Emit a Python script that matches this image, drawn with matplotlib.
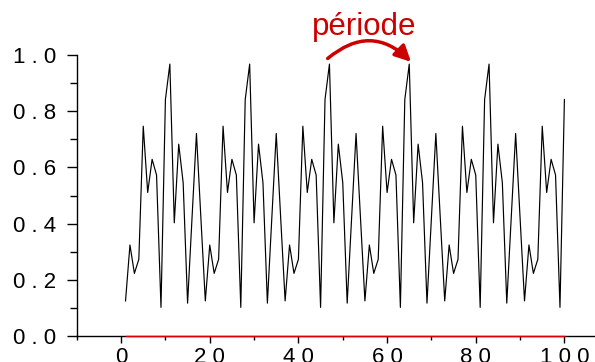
import matplotlib
matplotlib.use("Agg")
import matplotlib.pyplot as plt
from matplotlib.ticker import MultipleLocator, FixedLocator

plt.rcParams['font.family'] = ['Liberation Sans', 'DejaVu Sans']

x_values = list(range(1, 101))
y_values = [
    0.125, 0.324, 0.223, 0.273, 0.747, 0.511, 0.629, 0.573, 0.102, 0.842, 0.968, 0.403, 0.683, 0.546, 0.117, 0.420, 0.721, 0.420,
    0.125, 0.324, 0.223, 0.273, 0.747, 0.511, 0.629, 0.573, 0.102, 0.842, 0.968, 0.403, 0.683, 0.546, 0.117, 0.420, 0.721, 0.420,
    0.125, 0.324, 0.223, 0.273, 0.747, 0.511, 0.629, 0.573, 0.102, 0.842, 0.968, 0.403, 0.683, 0.546, 0.117, 0.420, 0.721, 0.420,
    0.125, 0.324, 0.223, 0.273, 0.747, 0.511, 0.629, 0.573, 0.102, 0.842, 0.968, 0.403, 0.683, 0.546, 0.117, 0.420, 0.721, 0.420,
    0.125, 0.324, 0.223, 0.273, 0.747, 0.511, 0.629, 0.573, 0.102, 0.842, 0.968, 0.403, 0.683, 0.546, 0.117, 0.420, 0.721, 0.420,
    0.125, 0.324, 0.223, 0.273, 0.747, 0.511, 0.629, 0.573, 0.102, 0.842,
]
baseline_values = [0.0] * 100

x_ticks = [0, 20, 40, 60, 80, 100]
x_tick_labels = ["0", "2 0", "4 0", "6 0", "8 0", "1 0 0"]
y_ticks = [0.0, 0.2, 0.4, 0.6, 0.8, 1.0]
y_tick_labels = ["0 . 0", "0 . 2", "0 . 4", "0 . 6", "0 . 8", "1 . 0"]

annot_text = "période"
arrow_start = (46.6, 0.988)
arrow_end = (65.4, 0.976)

fig = plt.figure(figsize=(5.95, 3.62), dpi=100)
ax = fig.add_axes([0.129, 0.0718, 0.871, 0.776])

ax.plot(x_values, y_values, color='black', lw=0.85, zorder=3)
ax.plot(x_values, baseline_values, color='#dd0000', lw=1.0, zorder=4, clip_on=False)

ax.set_xlim(-10, 106.9)
ax.set_ylim(0, 1.0)

ax.spines['top'].set_visible(False)
ax.spines['right'].set_visible(False)
for s in ('left', 'bottom'):
    ax.spines[s].set_linewidth(1.0)

ax.xaxis.set_major_locator(FixedLocator(x_ticks))
ax.set_xticklabels(x_tick_labels)
ax.xaxis.set_minor_locator(FixedLocator([-10, 10, 30, 50, 70, 90]))
ax.yaxis.set_major_locator(FixedLocator(y_ticks))
ax.set_yticklabels(y_tick_labels)
ax.yaxis.set_minor_locator(MultipleLocator(0.1))

ax.tick_params(axis='both', which='major', direction='out', length=5, width=1.0,
               labelsize=16, colors='black')
ax.tick_params(axis='both', which='minor', direction='out', length=3, width=1.0)
ax.tick_params(axis='y', which='major', length=7, pad=8)
ax.tick_params(axis='y', which='minor', length=5)
ax.tick_params(axis='x', which='major', pad=3)

ax.annotate('', xy=arrow_end, xytext=arrow_start,
            arrowprops=dict(arrowstyle='-|>', color='#cc0000', lw=2.5,
                            mutation_scale=24, shrinkA=0, shrinkB=0,
                            connectionstyle='arc3,rad=-0.45'),
            annotation_clip=False)
ax.text(54.9, 1.071, annot_text, color='#cc0000', fontsize=22.5,
        ha='center', va='baseline', clip_on=False)

fig.savefig('out.png', dpi=100)
